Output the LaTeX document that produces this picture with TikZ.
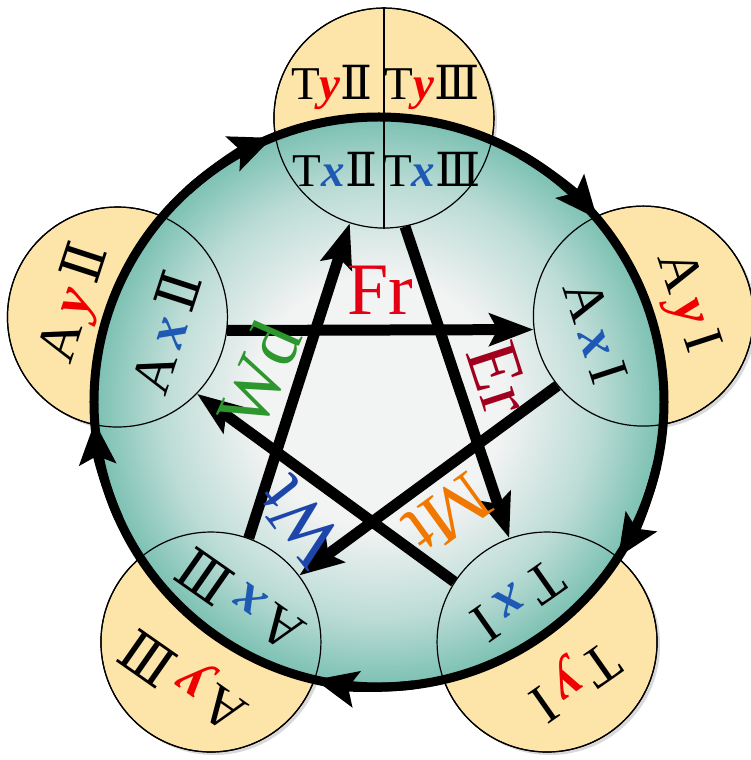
\documentclass[tikz,border=0pt]{standalone}
\usepackage{fontspec}
\setmainfont{Liberation Serif}
\newfontfamily\numfont{DejaVu Serif}
\usetikzlibrary{arrows.meta,calc}

\definecolor{peach}{RGB}{253,229,170}
\definecolor{tealout}{RGB}{122,192,178}
\definecolor{greyin}{RGB}{242,243,243}
\definecolor{xblue}{RGB}{30,90,180}
\definecolor{yred}{RGB}{240,0,0}
\definecolor{frred}{RGB}{228,0,20}
\definecolor{erred}{RGB}{160,0,30}
\definecolor{mtorange}{RGB}{240,120,0}
\definecolor{wtblue}{RGB}{30,70,170}
\definecolor{wdgreen}{RGB}{45,150,45}
\colorlet{tealmid}{greyin!55!tealout}
\pgfdeclareradialshading{wheel}{\pgfpointorigin}{color(0bp)=(greyin); color(11bp)=(greyin); color(19bp)=(tealmid); color(25bp)=(tealout); color(50bp)=(tealout)}

\newcommand{\xvar}{\textcolor{xblue}{\bfseries\itshape x}}
\newcommand{\yvar}{\textcolor{yred}{\bfseries\itshape y}}
\newcommand{\rII}{{\numfont Ⅱ}}
\newcommand{\rIII}{{\numfont Ⅲ}}
\newcommand{\lgap}{\kern0.16em}

\begin{document}
\begin{tikzpicture}[x=1pt, y=1pt,
  vtx/.style={circle, draw, line width=1.2pt, fill=peach, minimum size=220pt, inner sep=0pt},
  lab/.style={inner sep=0pt, font=\fontsize{47}{47}\selectfont},
  sidelab/.style={inner sep=0pt, font=\fontsize{56}{56}\selectfont},
  flowlab/.style={inner sep=0pt, font=\fontsize{74}{74}\selectfont},
  flow/.style={line width=11pt, -{Stealth[length=44pt, width=32pt, inset=8pt]}},
  rim/.style={line width=9pt, -{Stealth[length=42pt, width=36pt, inset=8pt]}}]
\useasboundingbox (-379,-358) rectangle (372,402);
\foreach \p in {(89:284),(18:278),(305:293),(235:293),(162:275)}
  \fill[black!15] \p ++(3,-3) circle[radius=110];
\node[vtx] (T) at (89:284) {};
\node[vtx] (R) at (18:278) {};
\node[vtx] (BR) at (305:293) {};
\node[vtx] (BL) at (235:293) {};
\node[vtx] (L) at (162:275) {};
\shade[shading=wheel] (0,0) circle[radius=285];
\foreach \v in {T,R,BR,BL,L}
  \draw[line width=1.2pt] (\v.center) circle[radius=110];
\draw[line width=1.2pt] (T.north) -- (T.south);
\draw[line width=9pt] (0,0) circle[radius=285];
\foreach \a in {112,40,-33,257,184}
  \draw[rim] (\a+20:285) arc[start angle=\a+20, end angle=\a, radius=285];

\node[lab] (T-xa) at ($(T.center)+(-49,-51)$) {T\xvar\rII};
\node[lab] (T-xb) at ($(T.center)+(48,-51)$) {T\xvar\rIII};
\node[lab] (T-ya) at ($(T.center)+(-52,31)$) {T\yvar\rII};
\node[lab] (T-yb) at ($(T.center)+(48,31)$) {T\yvar\rIII};
\foreach \v/\a/\xl/\yl in {R/18/{A\lgap\xvar\lgap I}/{A\lgap\yvar\lgap I},
    BR/305/{T\lgap\xvar\lgap I}/{T\lgap\yvar\lgap I},
    BL/235/{A\lgap\xvar\lgap\rIII}/{A\lgap\yvar\lgap\rIII},
    L/162/{A\lgap\xvar\lgap\rII}/{A\lgap\yvar\lgap\rII}} {
  \node[sidelab, rotate=\a-90] (\v-x) at ($(\v.center)+(\a:-50)$) {\xl};
  \node[sidelab, rotate=\a-90] (\v-y) at ($(\v.center)+(\a:44)$) {\yl};
}

\draw[flow] (L.-7) -- (R.187);
\draw[flow] (T.-79) -- (BR.110);
\draw[flow] (R.219) -- (BL.37);
\draw[flow] (BR.147) -- (L.-44);
\draw[flow] (BL.70) -- (T.252);
\node[flowlab, text=frred] (fr) at (1,112) {Fr};
\node[flowlab, text=erred, rotate=-72] (er) at (120,24) {Er};
\node[flowlab, text=mtorange, rotate=216] (mt) at (69,-112) {Mt};
\node[flowlab, text=wtblue, rotate=128] (wt) at (-79,-119) {Wt};
\node[flowlab, text=wdgreen, rotate=66] (wd) at (-120,27) {Wd};
\end{tikzpicture}
\end{document}
